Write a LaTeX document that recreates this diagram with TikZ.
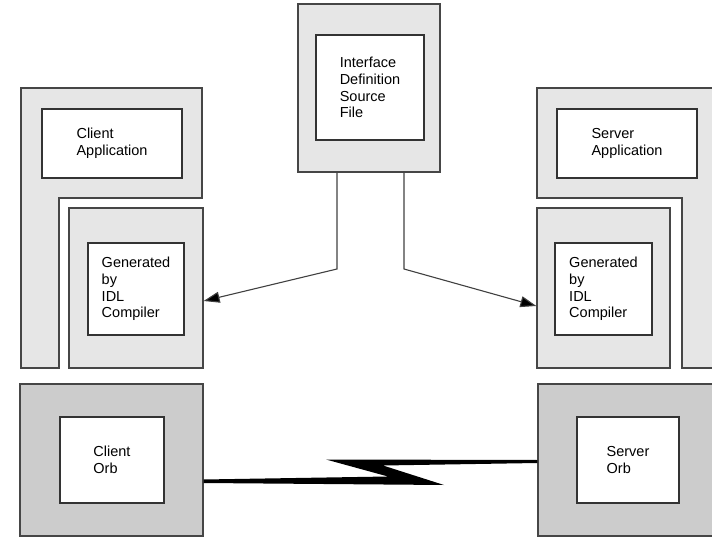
\documentclass[tikz,border=0pt]{standalone}
\usepackage{fontspec}
\setmainfont{Liberation Sans}
\usetikzlibrary{arrows.meta}

\definecolor{panelgray}{RGB}{230,230,230}
\definecolor{orbgray}{RGB}{204,204,204}
\definecolor{edgegray}{RGB}{70,70,70}

\tikzset{
  panel/.style={draw=edgegray, line width=1.3pt, fill=panelgray},
  orbpanel/.style={draw=edgegray, line width=1.3pt, fill=orbgray},
  textbox/.style={draw=black!80, line width=1.1pt, fill=white, align=left,
                  inner sep=0pt, font=\fontsize{14.5}{16.7}\selectfont},
  feed/.style={draw=black!75, line width=1.1pt, -{Triangle[length=16pt,width=11pt,fill=black]}}
}

\begin{document}
\begin{tikzpicture}[x=1pt,y=-1pt]
      \useasboundingbox (0,0) rectangle (712,537);
      \clip (0,0) rectangle (712,537);

      % client side
      \path [panel] (21,88) -- (202,88) -- (202,198) -- (59,198) -- (59,368) -- (21,368) -- cycle;
      \node (capp) [textbox, minimum width=140pt, minimum height=69pt] at (112,143.5) {Client\\Application};
      \node (cgen) [panel, minimum width=134pt, minimum height=160pt, inner sep=0pt] at (136,288) {};
      \node (cidl) [textbox, minimum width=96pt, minimum height=92pt] at (136,289) {Generated\\by\\IDL\\Compiler};

      % server side
      \path [panel] (537,88) -- (716,88) -- (716,368) -- (682,368) -- (682,198) -- (537,198) -- cycle;
      \node (sapp) [textbox, minimum width=140pt, minimum height=69pt] at (627,143.5) {Server\\Application};
      \node (sgen) [panel, minimum width=133pt, minimum height=160pt, inner sep=0pt] at (603.5,288) {};
      \node (sidl) [textbox, minimum width=97pt, minimum height=92pt] at (603.5,289) {Generated\\by\\IDL\\Compiler};

      % interface definition
      \node (idl)  [panel, minimum width=142pt, minimum height=168pt, inner sep=0pt] at (369,88) {};
      \node (src)  [textbox, minimum width=108pt, minimum height=105pt] at (370,87.5) {Interface\\Definition\\Source\\File};

      % orbs
      \node (corb) [orbpanel, minimum width=183pt, minimum height=152pt, inner sep=0pt] at (111.5,460) {};
      \node (corbtext) [textbox, minimum width=104pt, minimum height=86pt] at (112,460) {Client\\Orb};
      \node (sorb) [orbpanel, minimum width=180pt, minimum height=152pt, inner sep=0pt] at (628,460) {};
      \node (sorbtext) [textbox, minimum width=102pt, minimum height=86pt] at (628,460) {Server\\Orb};

      % compiler output
      \coordinate (lbend) at (337,269);
      \coordinate (rbend) at (404,269);
      \draw [feed] (idl.south -| lbend) -- (lbend) -- ([yshift=-13pt]cgen.east);
      \draw [feed] (idl.south -| rbend) -- (rbend) -- ([yshift=-18pt]sgen.west);

      % network link
      \fill (corb.east |- 0,479.5) -- (388,476.5) -- (326,459.5) -- (sorb.west |- 0,460)
            -- (sorb.west |- 0,463) -- (383,465.5) -- (444,485) -- (corb.east |- 0,483) -- cycle;
\end{tikzpicture}
\end{document}
